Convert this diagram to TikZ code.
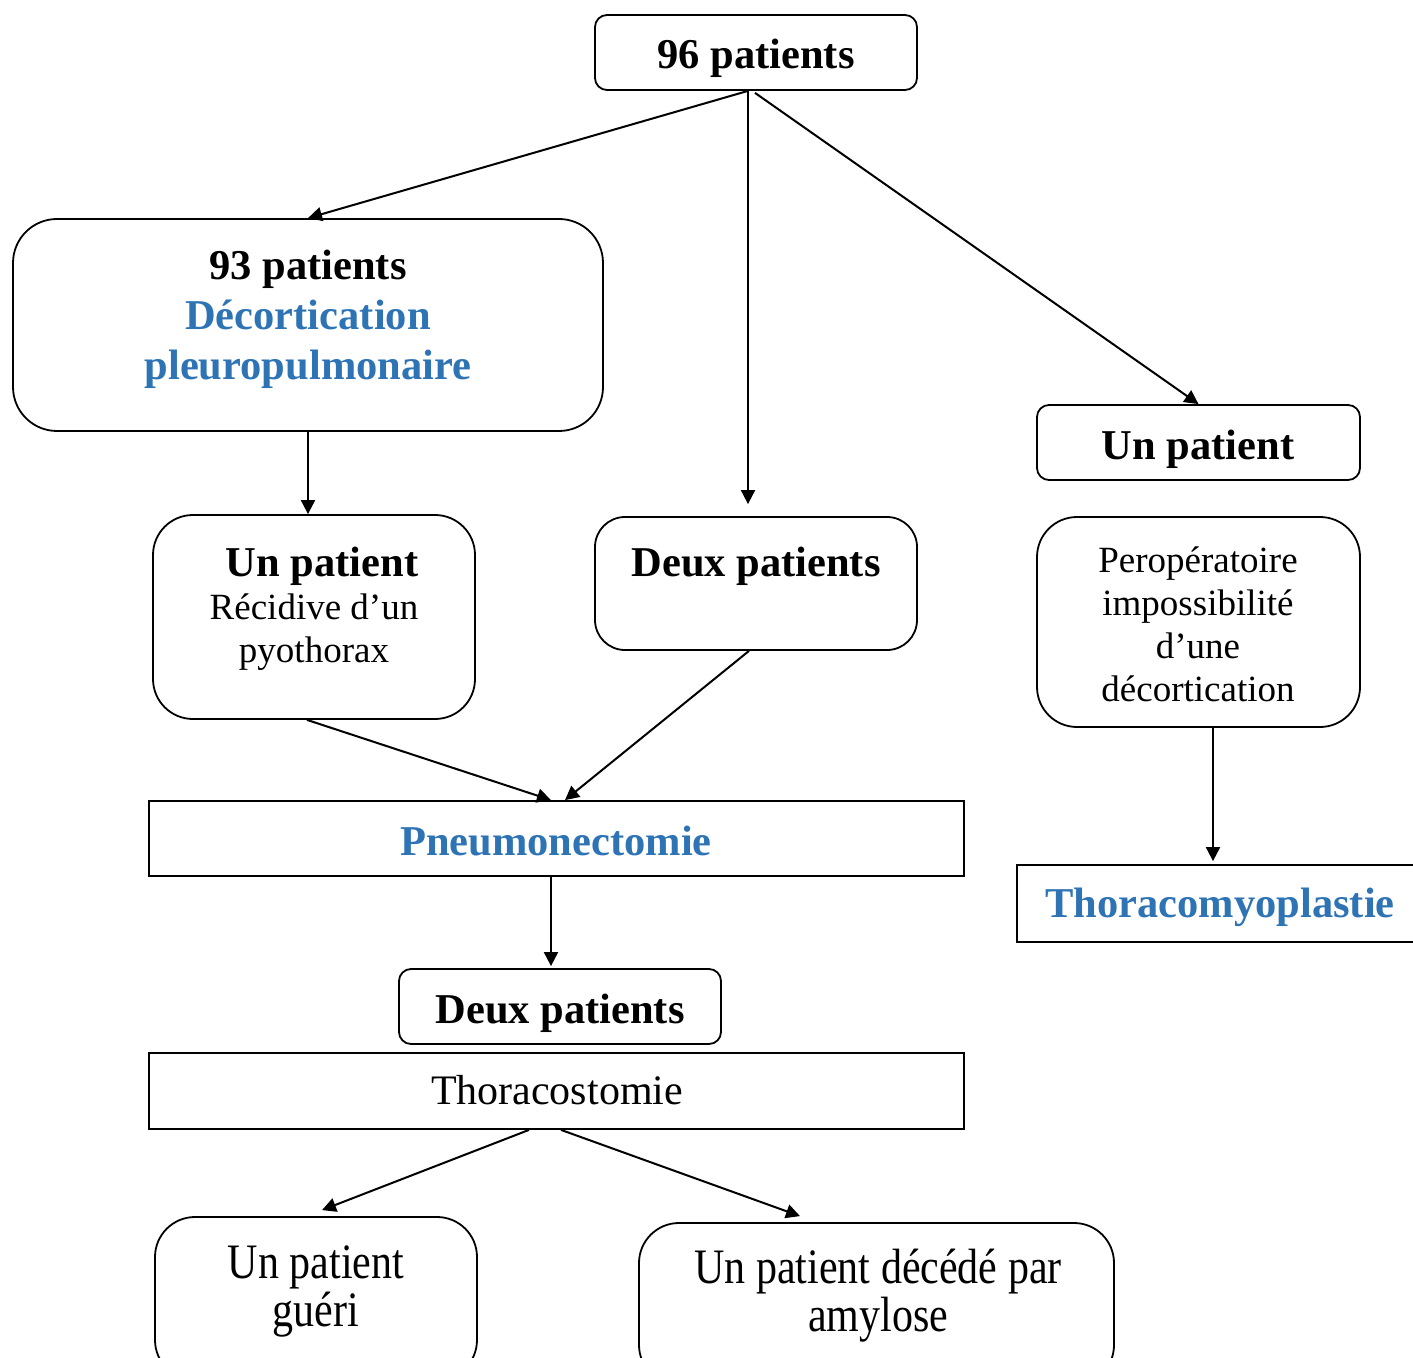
\documentclass[tikz,border=0pt]{standalone}
\usepackage{fontspec}
\setmainfont{Liberation Serif}
\usetikzlibrary{arrows.meta}
\definecolor{wblue}{HTML}{2E74B5}
\begin{document}
\begin{tikzpicture}[x=0.5pt,y=-0.5pt,
  box/.style={draw,line width=0.9pt,inner sep=0pt,minimum width=161pt,minimum height=37.5pt},
  rbox/.style={box,rounded corners=6pt},
  arr/.style={line width=1pt,-{Triangle[length=7pt,width=7pt]}},
  big/.style={font=\fontsize{21.25pt}{25pt}\selectfont\bfseries,align=center,inner sep=0pt},
  small/.style={font=\fontsize{18.5pt}{21.5pt}\selectfont,align=center,inner sep=0pt},
  mid/.style={font=\fontsize{21pt}{24pt}\selectfont,align=center,inner sep=0pt},
  tall/.style={font=\fontsize{21pt}{20.3pt}\selectfont,align=center,inner sep=0pt,yscale=1.18}]
\useasboundingbox (0,0) rectangle (1413,1358);
\clip (0,0) rectangle (1413,1358);
% boxes
\node[rbox] (top) at (756,52.5) {};
\node[rbox,rounded corners=22pt,minimum width=295pt,minimum height=106pt] (b93) at (308,325) {};
\node[rbox,rounded corners=20pt,minimum height=102pt] (lp) at (314,617) {};
\node[rbox,rounded corners=15pt,minimum height=66.5pt] (dp) at (756,583.5) {};
\node[rbox,minimum width=161.5pt] (rp) at (1198.5,442.5) {};
\node[rbox,rounded corners=20pt,minimum width=161.5pt,minimum height=105pt] (pero) at (1198.5,622) {};
\node[box,minimum width=407.5pt] (pneu) at (556.5,838.5) {};
\node[box,minimum width=231.5pt,minimum height=38.5pt] (thm) at (1248.5,903.5) {};
\node[rbox] (dl) at (560,1006.5) {};
\node[box,minimum width=407.5pt,minimum height=38pt] (tcs) at (556.5,1091) {};
\node[rbox,rounded corners=20pt,minimum height=81.5pt] (gueri) at (316,1298.5) {};
\node[rbox,rounded corners=20pt,minimum width=237.5pt,minimum height=81pt] (dec) at (876.5,1304) {};
% texts
\node[big] (t96) at (756,58) {96 patients};
\node[big] (t93) at (308,319) {93 patients\\\textcolor{wblue}{Décortication}\\\textcolor{wblue}{pleuropulmonaire}};
\node[big] (tlp) at (322,566) {Un patient};
\node[small] (tlp2) at (314,632) {Récidive d’un\\pyothorax};
\node[big] (tdp) at (756,566) {Deux patients};
\node[big] (trp) at (1198,449) {Un patient};
\node[small] (tpero) at (1198,624.5) {Peropératoire\\impossibilité\\d’une\\décortication};
\node[big,text=wblue] (tpneu) at (556,841) {Pneumonectomie};
\node[big,text=wblue] (tthm) at (1220,907) {Thoracomyoplastie};
\node[big] (tdl) at (560,1013) {Deux patients};
\node[mid] (ttcs) at (557,1090) {Thoracostomie};
\node[tall] (tgueri) at (316,1291) {Un patient\\guéri};
\node[tall] (tdec) at (878,1296) {Un patient décédé par\\amylose};
% arrows
\draw[arr] ([xshift=-4pt]top.south) -- (b93.north);
\draw[arr] ([xshift=-4pt]top.south) -- ([xshift=-4pt,yshift=6pt]dp.north);
\draw[arr] ([xshift=-0.5pt,yshift=-1pt]top.south) -- (rp.north);
\draw[arr] (b93.south) -- (b93.south |- lp.north);
\draw[arr] ([xshift=-3.5pt]lp.south) -- ([xshift=-2.75pt]pneu.north);
\draw[arr] ([xshift=-3.5pt]dp.south) -- ([xshift=4.25pt]pneu.north);
\draw[arr] ([xshift=-2.75pt]pneu.south) -- ([xshift=-4.5pt,yshift=1pt]dl.north);
\draw[arr] ([xshift=7.25pt]pero.south) -- ([xshift=-17.75pt,yshift=1.5pt]thm.north);
\draw[arr] ([xshift=-13.75pt]tcs.south) -- ([xshift=3pt,yshift=3pt]gueri.north);
\draw[arr] ([xshift=2.25pt]tcs.south) -- ([xshift=-38.25pt,yshift=3pt]dec.north);
\end{tikzpicture}
\end{document}
